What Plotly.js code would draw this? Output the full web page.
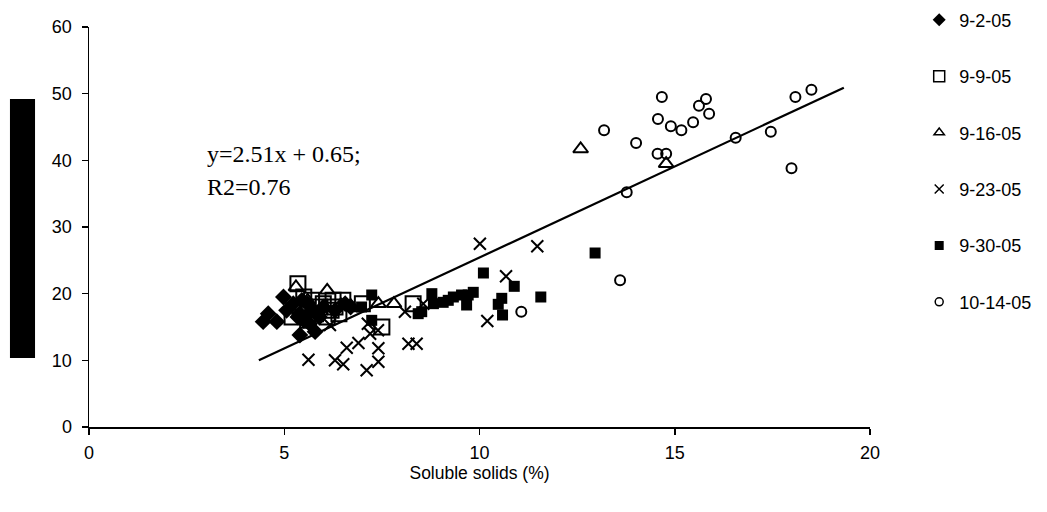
<!DOCTYPE html>
<html>
<head>
<meta charset="utf-8">
<script src="https://cdn.plot.ly/plotly-3.0.1.min.js"></script>
<style>html,body{margin:0;padding:0;background:#fff}#chart{width:1047px;height:512px}</style>
</head>
<body>
<div id="chart"></div>
<script>
// Series data (x = soluble solids %, y = value)
const seriesNames = ["9-2-05", "9-9-05", "9-16-05", "9-23-05", "9-30-05", "10-14-05"];

const d0902_x = [4.46,4.59,4.81,4.98,5.06,5.23,5.4,5.4,5.79,5.5,5.6,5.7,5.9,6.56,6.3,5.35,6.0,6.7,5.45,5.65];
const d0902_y = [15.8,17.0,15.8,19.5,17.5,18.5,17.0,13.8,14.3,16.0,18.5,17.5,16.5,18.5,17.5,16.5,18.0,18.0,19.0,15.5];

const d0909_x = [5.35,5.5,5.7,5.9,5.2,5.8,6.0,6.2,6.1,6.5,6.4,7.0,8.3,7.5,5.6,6.3,5.4,6.25];
const d0909_y = [21.5,19.5,19.0,18.0,16.5,17.0,18.5,17.5,16.5,19.0,17.0,18.5,18.5,15.0,16.0,18.0,18.0,19.0];

const d0916_x = [5.3,6.1,6.45,7.41,7.81,12.59,14.78,5.6,6.7];
const d0916_y = [21.0,20.5,18.3,18.5,18.5,41.7,39.5,19.0,18.2];

const d0923_x = [5.62,6.3,6.51,6.6,6.9,7.11,7.41,7.41,8.18,8.39,7.2,6.17,7.14,7.4,8.09,8.56,10.01,11.48,10.68,10.2];
const d0923_y = [10.1,10.0,9.4,11.9,12.6,8.5,11.8,9.8,12.5,12.5,14.0,15.3,15.5,14.5,17.3,18.5,27.5,27.1,22.6,15.9];

const d0930_x = [10.1,10.89,11.57,10.57,10.48,10.59,9.84,9.71,9.67,9.54,9.33,9.2,9.07,8.82,8.78,8.52,12.96,7.24,7.24,8.43,6.98];
const d0930_y = [23.1,21.1,19.5,19.3,18.4,16.8,20.2,19.8,18.3,19.8,19.5,19.0,18.7,18.5,20.0,17.3,26.1,19.8,16.0,17.0,18.0];

const d1014_x = [11.07,13.6,13.77,13.19,14.01,14.57,14.67,14.56,14.78,14.9,15.17,15.47,15.62,15.8,15.88,16.56,17.46,17.99,18.09,18.5];
const d1014_y = [17.3,22.0,35.2,44.5,42.6,46.2,49.5,41.0,41.0,45.1,44.5,45.7,48.2,49.2,47.0,43.4,44.3,38.8,49.5,50.6];

// Fitted line end points as drawn
const fit_x = [4.35, 19.33];
const fit_y = [10.0, 50.9];

const xTicks = [0, 5, 10, 15, 20];
const yTicks = [0, 10, 20, 30, 40, 50, 60];

const eqLine1 = "y=2.51x + 0.65;";
const eqLine2 = "R2=0.76";

const styles = [
  {symbol: "diamond", size: 13, lw: 0, lsize: 10},
  {symbol: "square-open", size: 15, lw: 2, lsize: 11},
  {symbol: "triangle-up-open", size: 13, lw: 2, lsize: 9},
  {symbol: "x-thin-open", size: 12, lw: 2, lsize: 9},
  {symbol: "square", size: 11, lw: 0, lsize: 9},
  {symbol: "circle-open", size: 10, lw: 2, lsize: 8}
];
const xs = [d0902_x, d0909_x, d0916_x, d0923_x, d0930_x, d1014_x];
const ys = [d0902_y, d0909_y, d0916_y, d0923_y, d0930_y, d1014_y];

const traces = [];
traces.push({x: fit_x, y: fit_y, mode: "lines", line: {color: "#000", width: 2.2}, showlegend: false, hoverinfo: "skip"});
for (let i = 0; i < seriesNames.length; i++) {
  const s = styles[i];
  traces.push({
    x: xs[i], y: ys[i], mode: "markers", type: "scatter", showlegend: false, name: seriesNames[i],
    marker: {symbol: s.symbol, size: s.size, color: "#000", line: {color: "#000", width: s.lw}}
  });
}
// legend-only entries with smaller symbols
for (let i = 0; i < seriesNames.length; i++) {
  const s = styles[i];
  traces.push({
    x: [null], y: [null], mode: "markers", type: "scatter", name: seriesNames[i], legendgroup: "g" + i,
    marker: {symbol: s.symbol, size: s.lsize, color: "#000", line: {color: "#000", width: s.lw ? 1.5 : 0}}
  });
}

const layout = {
  width: 1047, height: 512,
  margin: {l: 89, r: 177, t: 27, b: 85, autoexpand: false},
  paper_bgcolor: "#fff", plot_bgcolor: "#fff",
  font: {family: "Liberation Sans, Arial, sans-serif", size: 18, color: "#000"},
  xaxis: {
    range: [0, 20], tickvals: xTicks, ticktext: xTicks.map(String),
    showgrid: false, zeroline: false, showline: true, linecolor: "#000", linewidth: 1.5,
    ticks: "outside", ticklen: 6, tickcolor: "#000", tickwidth: 1.5, ticklabelstandoff: 3,
    tickfont: {size: 18},
    title: {text: "Soluble solids (%)", font: {size: 17.5}, standoff: 3}
  },
  yaxis: {
    range: [0, 60], tickvals: yTicks, ticktext: yTicks.map(String),
    showgrid: false, zeroline: false, showline: true, linecolor: "#000", linewidth: 1.5,
    ticks: "outside", ticklen: 6, tickcolor: "#000", tickwidth: 1.5, ticklabelstandoff: 6,
    tickfont: {size: 18}
  },
  legend: {
    x: 1.063, y: 1.0635, xanchor: "left", yanchor: "top", maxheight: 1,
    font: {size: 18}, tracegroupgap: 30, bgcolor: "rgba(0,0,0,0)", itemclick: false
  },
  shapes: [{
    type: "rect", xref: "paper", yref: "paper",
    x0: -0.1012, x1: -0.0691, y0: 0.1725, y1: 0.82,
    fillcolor: "#000", line: {width: 0}
  }],
  annotations: [
    {
      xref: "paper", yref: "paper", x: 0.148, y: 0.683, xanchor: "left", yanchor: "middle",
      showarrow: false, text: eqLine1,
      font: {family: "Liberation Serif, Times New Roman, serif", size: 24, color: "#000"}
    },
    {
      xref: "paper", yref: "paper", x: 0.148, y: 0.60, xanchor: "left", yanchor: "middle",
      showarrow: false, text: eqLine2,
      font: {family: "Liberation Serif, Times New Roman, serif", size: 24, color: "#000"}
    }
  ]
};

Plotly.newPlot("chart", traces, layout, {staticPlot: true, displayModeBar: false});
</script>
</body>
</html>
